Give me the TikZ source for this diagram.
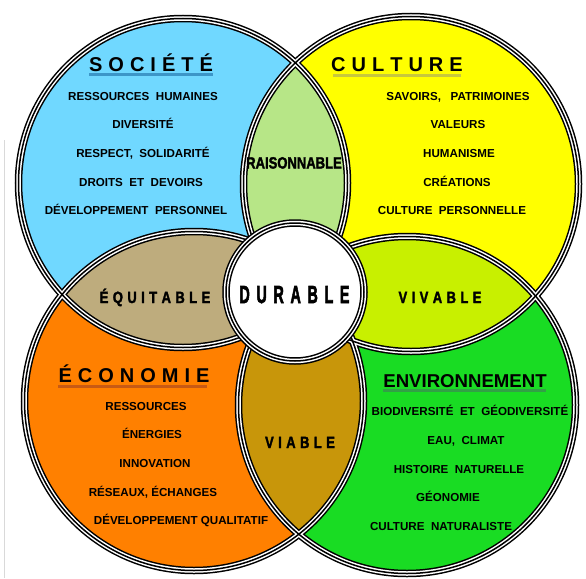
\documentclass[tikz,border=0pt]{standalone}
\usepackage{fontspec}
\setmainfont{Liberation Sans}
\newfontfamily\heavyfont[FakeBold=2.2]{Liberation Sans Bold}
\newfontfamily\heavierfont[FakeBold=3.2]{Liberation Sans Bold}
\usepackage{graphicx}
\definecolor{socC}{RGB}{112,216,255}
\definecolor{culC}{RGB}{255,255,0}
\definecolor{raisC}{RGB}{183,230,135}
\definecolor{equiC}{RGB}{190,172,125}
\definecolor{ecoC}{RGB}{255,128,0}
\definecolor{viabC}{RGB}{200,150,10}
\definecolor{vivaC}{RGB}{200,240,0}
\definecolor{envC}{RGB}{25,220,35}
\definecolor{ulS}{RGB}{60,150,200}
\definecolor{ulC}{RGB}{200,200,60}
\definecolor{ulE}{RGB}{200,90,20}
\definecolor{ulV}{RGB}{50,160,70}
\makeatletter
\newcommand\spacedtxt[2]{\def\sp@first{1}\@tfor\sp@c:=#2\do{\ifx\sp@first\@empty\kern#1\fi\sp@c\let\sp@first\@empty}}
\makeatother
\tikzset{
 itemtxt/.style={font=\fontsize{11.6}{13}\selectfont\bfseries, anchor=base, inner sep=0pt},
 ttltxt/.style={font=\fontsize{20}{22}\selectfont\bfseries, anchor=base, inner sep=0pt},
 lbltxt/.style={anchor=base, inner sep=0pt},
 ringA/.style={line width=7.5pt, black},
 ringB/.style={line width=4.5pt, white},
 ringC/.style={line width=1.5pt, black},
 ulline/.style={line width=2.5pt},
}
\begin{document}
\begin{tikzpicture}[x=1pt,y=-1pt]
\useasboundingbox (0,0) rectangle (586,578);
\fill[white] (0,0) rectangle (586,578);
\draw[black!15, line width=1pt] (4,140) -- (4,578);
\coordinate (cS) at (183,183);
\coordinate (cC) at (411,184);
\coordinate (cE) at (194,401);
\coordinate (cV) at (407,405);
\coordinate (cD) at (295,292);
\def\rS{164.5}\def\rC{167.5}\def\rE{169.5}\def\rV{168.5}\def\rD{69}
% base fills
\fill[socC] (cS) circle[radius=\rS];
\fill[culC] (cC) circle[radius=\rC];
\fill[ecoC] (cE) circle[radius=\rE];
\fill[envC] (cV) circle[radius=\rV];
% lenses
\begin{scope}
 \clip (cS) circle[radius=\rS];
 \fill[raisC] (cC) circle[radius=\rC];
 \fill[equiC] (cE) circle[radius=\rE];
\end{scope}
\begin{scope}
 \clip (cV) circle[radius=\rV];
 \fill[vivaC] (cC) circle[radius=\rC];
 \fill[viabC] (cE) circle[radius=\rE];
\end{scope}
% rings
\foreach \cc/\rr in {cS/\rS,cC/\rC,cE/\rE,cV/\rV} \draw[ringA] (\cc) circle[radius=\rr];
\foreach \cc/\rr in {cS/\rS,cC/\rC,cE/\rE,cV/\rV} \draw[ringB] (\cc) circle[radius=\rr];
\foreach \cc/\rr in {cS/\rS,cC/\rC,cE/\rE,cV/\rV} \draw[ringC] (\cc) circle[radius=\rr];
% centre
\fill[white] (cD) circle[radius=\rD];
\draw[ringA] (cD) circle[radius=\rD];
\draw[ringB] (cD) circle[radius=\rD];
\draw[ringC] (cD) circle[radius=\rD];
% titles
\node[ttltxt] (tS) at (151,71) {\spacedtxt{6pt}{SOCIÉTÉ}};
\draw[ulS, ulline] (89,74.5) -- (213,74.5);
\node[ttltxt] (tC) at (397,71) {\spacedtxt{6pt}{CULTURE}};
\draw[ulC, ulline] (333,75.5) -- (461,75.5);
\node[ttltxt] (tE) at (134,382) {\spacedtxt{6pt}{ÉCONOMIE}};
\draw[ulE, ulline] (58,386.5) -- (207,386.5);
\node[ttltxt, font=\fontsize{18.6}{20}\selectfont\bfseries] (tV) at (465,387) {ENVIRONNEMENT};
\draw[ulV, ulline] (383,390.5) -- (546,390.5);
% Société items
\node[itemtxt] (s1) at (143,100) {RESSOURCES~ HUMAINES};
\node[itemtxt] (s2) at (143,128) {DIVERSITÉ};
\node[itemtxt] (s3) at (143,157) {RESPECT,~ SOLIDARITÉ};
\node[itemtxt] (s4) at (141,186) {DROITS~ ET~ DEVOIRS};
\node[itemtxt] (s5) at (136,214) {DÉVELOPPEMENT~ PERSONNEL};
% Culture items
\node[itemtxt] (c1) at (458,100) {SAVOIRS,~~ PATRIMOINES};
\node[itemtxt] (c2) at (458,128) {VALEURS};
\node[itemtxt] (c3) at (459,157) {HUMANISME};
\node[itemtxt] (c4) at (457,186) {CRÉATIONS};
\node[itemtxt] (c5) at (452,214) {CULTURE~ PERSONNELLE};
% Economie items
\node[itemtxt] (e1) at (146,410) {RESSOURCES};
\node[itemtxt] (e2) at (152,438) {ÉNERGIES};
\node[itemtxt] (e3) at (155,467) {INNOVATION};
\node[itemtxt] (e4) at (153,496) {RÉSEAUX, ÉCHANGES};
\node[itemtxt] (e5) at (181,524) {DÉVELOPPEMENT QUALITATIF};
% Environnement items
\node[itemtxt] (v1) at (470,415) {BIODIVERSITÉ~ ET~ GÉODIVERSITÉ};
\node[itemtxt] (v2) at (466,444) {EAU,~ CLIMAT};
\node[itemtxt] (v3) at (459,473) {HISTOIRE~ NATURELLE};
\node[itemtxt] (v4) at (448,501) {GÉONOMIE};
\node[itemtxt] (v5) at (441,530) {CULTURE~ NATURALISTE};
% lens labels
\node[lbltxt] (lR) at (294,168.5) {\scalebox{0.8}[1]{\fontsize{16.3}{18}\selectfont\heavyfont RAISONNABLE}};
\node[lbltxt] (lQ) at (155,303) {\scalebox{0.8}[1]{\fontsize{16.3}{18}\selectfont\heavyfont\spacedtxt{5.5pt}{ÉQUITABLE}}};
\node[lbltxt] (lW) at (440,303) {\scalebox{0.8}[1]{\fontsize{16.3}{18}\selectfont\heavyfont\spacedtxt{5.5pt}{VIVABLE}}};
\node[lbltxt] (lA) at (300,448) {\scalebox{0.8}[1]{\fontsize{16.3}{18}\selectfont\heavyfont\spacedtxt{5.5pt}{VIABLE}}};
\node[lbltxt] (lD) at (294.5,303) {\scalebox{0.58}[1]{\fontsize{24.7}{26}\selectfont\heavierfont\spacedtxt{11.5pt}{DURABLE}}};
\end{tikzpicture}
\end{document}
